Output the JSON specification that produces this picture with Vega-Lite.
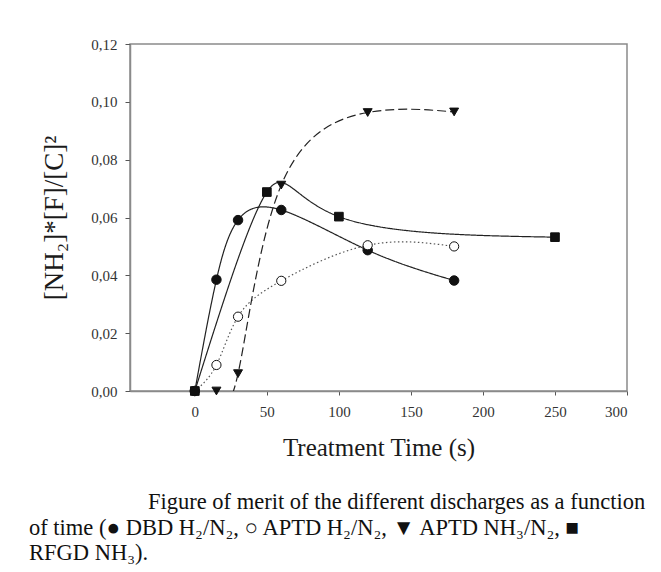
{
  "$schema": "https://vega.github.io/schema/vega-lite/v6.json",
  "autosize": {"type": "none"},
  "padding": {"left": 130, "top": 44, "right": 34, "bottom": 181},
  "width": 497,
  "height": 347,
  "background": "white",
  "config": {
    "view": {"stroke": "#8a8a8a", "strokeWidth": 1.5},
    "font": "Liberation Serif",
    "axis": {
      "grid": false,
      "domainColor": "#8a8a8a",
      "domainWidth": 1.5,
      "tickColor": "#555",
      "labelFont": "Liberation Serif",
      "labelFontSize": 15,
      "labelColor": "#333",
      "titleFont": "Liberation Serif",
      "titleFontWeight": "normal",
      "titleColor": "#1a1a1a"
    }
  },
  "title": {
    "text": [
      "\u2800\u2800\u2800\u2800\u2800\u2800\u2800Figure of merit of the different discharges as a function",
      "of time (● DBD H₂/N₂, ○ APTD H₂/N₂, ▼ APTD NH₃/N₂, ■",
      "RFGD NH₃)."
    ],
    "orient": "bottom",
    "anchor": "start",
    "frame": "group",
    "align": "left",
    "dx": -101,
    "offset": 31,
    "font": "Liberation Serif",
    "fontSize": 22.5,
    "fontWeight": "normal",
    "lineHeight": 25.5,
    "color": "#111"
  },
  "data": {
    "values": [
      {"series": "DBD H2/N2", "t": 0, "v": 0.0},
      {"series": "DBD H2/N2", "t": 15, "v": 0.0385},
      {"series": "DBD H2/N2", "t": 30, "v": 0.0591},
      {"series": "DBD H2/N2", "t": 60, "v": 0.0626},
      {"series": "DBD H2/N2", "t": 120, "v": 0.0487},
      {"series": "DBD H2/N2", "t": 180, "v": 0.0382},
      {"series": "APTD H2/N2", "t": 0, "v": 0.0},
      {"series": "APTD H2/N2", "t": 15, "v": 0.009},
      {"series": "APTD H2/N2", "t": 30, "v": 0.0257},
      {"series": "APTD H2/N2", "t": 60, "v": 0.0381},
      {"series": "APTD H2/N2", "t": 120, "v": 0.0504},
      {"series": "APTD H2/N2", "t": 180, "v": 0.05},
      {"series": "APTD NH3/N2", "t": 15, "v": 0.0},
      {"series": "APTD NH3/N2", "t": 30, "v": 0.006},
      {"series": "APTD NH3/N2", "t": 60, "v": 0.0712},
      {"series": "APTD NH3/N2", "t": 120, "v": 0.0963},
      {"series": "APTD NH3/N2", "t": 180, "v": 0.0965},
      {"series": "RFGD NH3", "t": 0, "v": 0.0},
      {"series": "RFGD NH3", "t": 50, "v": 0.0688},
      {"series": "RFGD NH3", "t": 100, "v": 0.0603},
      {"series": "RFGD NH3", "t": 250, "v": 0.0532}
    ]
  },
  "encoding": {
    "x": {
      "field": "t",
      "type": "quantitative",
      "scale": {"domain": [-45, 300], "nice": false, "zero": false},
      "axis": {
        "title": "Treatment Time (s)",
        "titleFontSize": 25,
        "titlePadding": 16,
        "values": [0, 50, 100, 150, 200, 250, 300],
        "tickSize": 4,
        "labelPadding": 9
      }
    },
    "y": {
      "field": "v",
      "type": "quantitative",
      "scale": {"domain": [0, 0.12], "nice": false},
      "axis": {
        "title": "[NH₂]*[F]/[C]²",
        "titleFontSize": 27,
        "titlePadding": 22,
        "values": [0, 0.02, 0.04, 0.06, 0.08, 0.1, 0.12],
        "labelExpr": "replace(format(datum.value, '.2f'), '.', ',')",
        "tickSize": 5,
        "labelPadding": 8
      }
    }
  },
  "layer": [
    {
      "mark": {"type": "line", "interpolate": "natural", "clip": true, "strokeWidth": 1.2},
      "encoding": {
        "detail": {"field": "series"},
        "color": {
          "field": "series",
          "type": "nominal",
          "scale": {"domain": ["DBD H2/N2", "APTD H2/N2", "APTD NH3/N2", "RFGD NH3"], "range": ["#222", "#555", "#222", "#222"]},
          "legend": null
        },
        "strokeDash": {
          "field": "series",
          "type": "nominal",
          "scale": {"domain": ["DBD H2/N2", "APTD H2/N2", "APTD NH3/N2", "RFGD NH3"], "range": [[1, 0], [1.5, 2.5], [9, 4], [1, 0]]},
          "legend": null
        }
      }
    },
    {
      "mark": {"type": "point", "opacity": 1, "strokeWidth": 1},
      "encoding": {
        "shape": {
          "field": "series",
          "type": "nominal",
          "scale": {"domain": ["DBD H2/N2", "APTD H2/N2", "APTD NH3/N2", "RFGD NH3"], "range": ["circle", "circle", "triangle-down", "square"]},
          "legend": null
        },
        "fill": {
          "field": "series",
          "type": "nominal",
          "scale": {"domain": ["DBD H2/N2", "APTD H2/N2", "APTD NH3/N2", "RFGD NH3"], "range": ["#111", "white", "#111", "#111"]},
          "legend": null
        },
        "stroke": {"value": "#111"},
        "size": {
          "field": "series",
          "type": "nominal",
          "scale": {"domain": ["DBD H2/N2", "APTD H2/N2", "APTD NH3/N2", "RFGD NH3"], "range": [90, 75, 75, 75]},
          "legend": null
        }
      }
    }
  ]
}
